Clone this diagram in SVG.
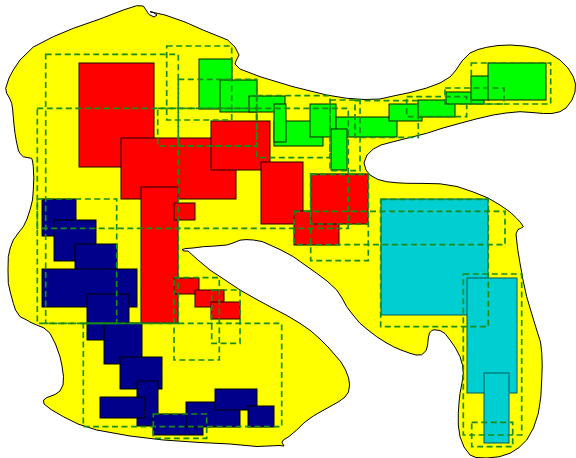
<svg xmlns="http://www.w3.org/2000/svg" width="576" height="458" viewBox="0 0 576 458">
<style>
.blob{fill:#ffff00;stroke:#000;stroke-width:1;stroke-linejoin:round}
.r{fill:#ff0000;stroke:#200000;stroke-width:1}
.b{fill:#00008b;stroke:#000;stroke-width:1}
.g{fill:#00ff00;stroke:#002000;stroke-width:1}
.c{fill:#00ced1;stroke:#005a5a;stroke-width:1}
.d{fill:none;stroke:#1a8c1a;stroke-width:1.7;stroke-dasharray:6,3.5}
</style>
<g id="region">
<path class="blob" d="M5.7,88.3 L9,78 L13.3,70 L20,60 L33.3,47 L53.3,36.7 L73.3,28.3 L100,19 L123.3,10 L136.7,5.7 L143.3,6 L146,10 L149,14.5 L154,17 L157,15 L153,12.3 L150,11.7 L165,15 L185,22 L203,30 L227.7,40 L235,47 L239,55 L236,61 L235,64 L240,69 L260,76.7 L293,86.7 L326.7,95 L346.7,98.3 L365,99.5 L380,99 L393.3,96 L410,92.5 L426.7,88 L440,83 L450,77 L456,70 L462,61 L470,53 L478,49.5 L486.7,47.3 L498,45.5 L510,45 L524,46 L536.7,48.3 L549,53 L560,60 L568,68 L573.3,76.7 L575.5,84 L575,92 L572,100 L566,108 L560,111.7 L552,113.5 L543.3,113.5 L532,112.5 L520,111.7 L506,113 L493.3,115 L476,119 L460,123.3 L443,128 L426.7,133.3 L410,137.5 L393.3,141.7 L381,145 L373.3,149 L367,155 L364,163 L366,170 L370,175 L378,179.5 L386.7,181.7 L397,182.8 L406.7,183.3 L423,183.4 L440,183.8 L457,186.5 L473.3,192 L488,198 L500,205 L510,212 L516.7,218.3 L521,223 L523.3,226.7 L520.5,228.5 L518,229.5 L516,234 L517.5,248 L520,263.3 L523,280 L526.7,296.7 L531.5,313 L536.7,330 L540.5,342 L541.8,353.3 L542.2,366 L541.7,380 L540.8,397 L538.3,413.3 L533.5,428 L526.7,440 L519,447.5 L510,453.3 L499,456.8 L486.7,458 L476,457.5 L470,455 L464,447 L460,436.7 L458.3,425 L458.3,413.3 L459,403 L460,393.3 L462,383 L463.3,373.3 L462.5,365 L460,356.7 L455.5,348 L450,340 L445,333.5 L440,330.5 L434,329.8 L431.7,330.5 L429.5,333 L428.3,338 L427.6,345 L426.2,350.5 L421.7,354.8 L416,355 L410,353.3 L401,350 L393.3,346.7 L385,342 L376.7,336.7 L368,330 L360,323.3 L353,315 L346.7,306.7 L342,298 L336.7,290 L327,281 L316.7,273.3 L305,265 L293.3,256.7 L281,250 L270,245 L262,241.5 L253.3,240 L246,239.6 L240,240.2 L233,243 L226.7,245 L215,246 L203.3,246.7 L193,248 L186,248.5 L182,249.5 L184,251 L188,251 L198,260 L210,270 L225,280 L240,290 L255,298.5 L270,306.7 L286,315 L300,323.3 L311,331 L320,339 L328,347 L335,355 L341,362 L345.6,370 L348.6,378 L349.6,385 L348.5,392 L345,397 L339,401.5 L331,406 L322,411 L313.3,416 L305,422 L296.7,430 L289,436.5 L283.3,440 L282,442.5 L284,446 L279,445.5 L257,446.5 L230,444 L200,442.5 L163.3,440 L130,436 L96.7,430 L78,424 L63.3,416.7 L51,409.5 L44,404 L43.5,400 L47,397.5 L55,394.5 L60,391 L63,385 L63.5,376.7 L62,366 L60,356.7 L55.5,344 L50,333.3 L44,328 L36.7,325 L31,322.5 L26.7,320 L20,316.7 L15.5,310 L13.3,303.3 L10.5,293 L8.3,283.3 L8,270 L8.3,256.7 L10.2,248 L13.3,240 L18.3,233 L23.3,226.7 L27,219 L30,210 L32.5,200 L33.3,190 L33.8,178 L33.3,166.7 L32.5,161 L31.7,158.3 L27,157.5 L23.3,156.7 L20,153.5 L18.3,150 L16.5,142 L15,133.3 L14,125 L13.3,116.7 L12.6,109 L11.7,103.3 L9.5,98 L6.7,93.3 Z"/>
</g>
<g id="red">
<g id="r1"><rect class="r" x="79" y="63" width="75" height="104"/></g>
<g id="r2"><rect class="r" x="121" y="138" width="115" height="61"/></g>
<g id="r3"><rect class="r" x="211" y="121" width="59" height="49"/></g>
<g id="r4"><rect class="r" x="261" y="162" width="42" height="62"/></g>
<g id="r5"><rect class="r" x="141" y="187" width="37" height="136"/></g>
<g id="r6"><rect class="r" x="174" y="203" width="21" height="17"/></g>
<g id="r7"><rect class="r" x="174" y="278" width="25" height="16"/></g>
<g id="r8"><rect class="r" x="195" y="290" width="29" height="17"/></g>
<g id="r9"><rect class="r" x="211" y="302" width="29" height="17"/></g>
<g id="r11"><rect class="r" x="294" y="211" width="45" height="34"/></g>
<g id="r10"><rect class="r" x="311" y="174" width="57" height="50"/></g>
</g>
<g id="blue">
<g id="b1"><rect class="b" x="42" y="199" width="34" height="37"/></g>
<g id="b2"><rect class="b" x="54" y="220" width="42" height="41"/></g>
<g id="b3"><rect class="b" x="75" y="244" width="42" height="30"/></g>
<g id="b4"><rect class="b" x="42" y="269" width="95" height="38"/></g>
<g id="b5"><rect class="b" x="87" y="294" width="42" height="46"/></g>
<g id="b6"><rect class="b" x="104" y="323" width="38" height="41"/></g>
<g id="b7"><rect class="b" x="120" y="357" width="42" height="32"/></g>
<g id="b8"><rect class="b" x="137" y="381" width="21" height="45"/></g>
<g id="b9"><rect class="b" x="100" y="397" width="45" height="21"/></g>
<g id="b10"><rect class="b" x="153" y="414" width="50" height="21"/></g>
<g id="b11"><rect class="b" x="186" y="402" width="54" height="25"/></g>
<g id="b12"><rect class="b" x="215" y="389" width="42" height="21"/></g>
<g id="b13"><rect class="b" x="248" y="406" width="26" height="21"/></g>
</g>
<g id="green">
<g id="g1"><rect class="g" x="199" y="59" width="33" height="50"/></g>
<g id="g2"><rect class="g" x="220" y="80" width="37" height="32"/></g>
<g id="g3"><rect class="g" x="249" y="96" width="36" height="16"/></g>
<g id="g5"><rect class="g" x="274" y="121" width="49" height="25"/></g>
<g id="g4"><rect class="g" x="274" y="104" width="12" height="38"/></g>
<g id="g6"><rect class="g" x="310" y="104" width="26" height="33"/></g>
<g id="g7"><rect class="g" x="336" y="117" width="61" height="20"/></g>
<g id="g8"><rect class="g" x="331" y="129" width="16" height="41"/></g>
<g id="g9"><rect class="g" x="389" y="104" width="33" height="17"/></g>
<g id="g10"><rect class="g" x="418" y="100" width="37" height="17"/></g>
<g id="g11"><rect class="g" x="446" y="92" width="38" height="12"/></g>
<g id="g12"><rect class="g" x="471" y="76" width="18" height="24"/></g>
<g id="g13"><rect class="g" x="488" y="63" width="58" height="37"/></g>
</g>
<g id="cyan">
<g id="c1"><rect class="c" x="381" y="199" width="107" height="116"/></g>
<g id="c2"><rect class="c" x="467" y="278" width="50" height="115"/></g>
<g id="c3"><rect class="c" x="484" y="373" width="25" height="70"/></g>
</g>
<g id="bounds">
<rect class="d" x="45.7" y="54.3" width="132.6" height="269"/>
<rect class="d" x="166.7" y="46" width="65" height="74"/>
<rect class="d" x="178.3" y="79.3" width="78.4" height="66.7"/>
<rect class="d" x="157.7" y="108.3" width="99" height="37.7"/>
<rect class="d" x="37.3" y="108.3" width="311" height="120"/>
<rect class="d" x="256.7" y="95.7" width="73.3" height="62"/>
<rect class="d" x="330" y="100" width="30" height="70.7"/>
<rect class="d" x="355" y="100.7" width="63.3" height="36.6"/>
<rect class="d" x="406.7" y="96.7" width="60" height="20"/>
<rect class="d" x="445" y="88" width="59" height="16"/>
<rect class="d" x="471.3" y="63" width="79.4" height="41"/>
<rect class="d" x="310.7" y="174.3" width="57.6" height="86.4"/>
<rect class="d" x="310.7" y="174.3" width="57.6" height="49.7"/>
<rect class="d" x="294" y="211.3" width="211" height="33.4"/>
<rect class="d" x="380.7" y="199.3" width="107.6" height="127.4"/>
<rect class="d" x="463.3" y="274" width="58.4" height="161"/>
<rect class="d" x="471.7" y="422.3" width="41" height="24.4"/>
<rect class="d" x="37.3" y="199" width="79.4" height="124.3"/>
<rect class="d" x="83.3" y="323.3" width="198.4" height="103.4"/>
<rect class="d" x="174" y="277.7" width="45.3" height="82.3"/>
<rect class="d" x="211.7" y="290" width="28.3" height="53.3"/>
<rect class="d" x="153.3" y="414" width="53.4" height="24.3"/>
</g>
</svg>
